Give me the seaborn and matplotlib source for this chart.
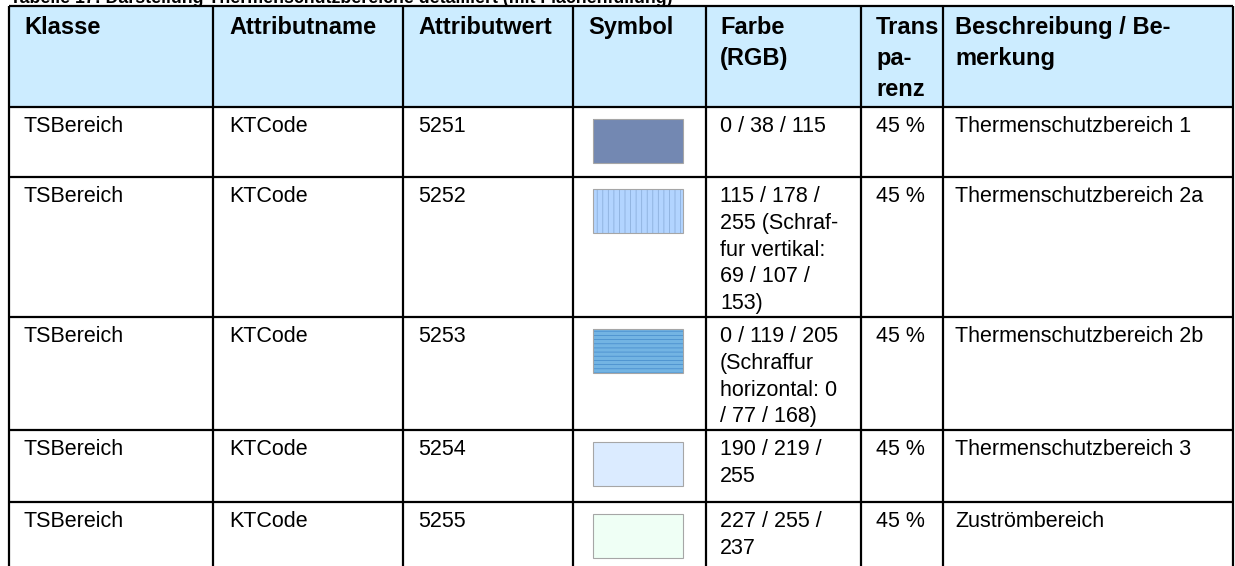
import matplotlib
matplotlib.use("Agg")
import matplotlib.pyplot as plt
from matplotlib.patches import Rectangle
import seaborn as sns

# table content
caption = "Tabelle 17: Darstellung Thermenschutzbereiche detailliert (mit Flächenfüllung)"
headers = ["Klasse", "Attributname", "Attributwert", "Symbol", "Farbe\n(RGB)",
           "Trans\npa-\nrenz", "Beschreibung / Be-\nmerkung"]
klasse = ["TSBereich"] * 5
attributname = ["KTCode"] * 5
attributwert = ["5251", "5252", "5253", "5254", "5255"]
farbe = ["0 / 38 / 115",
         "115 / 178 /\n255 (Schraf-\nfur vertikal:\n69 / 107 /\n153)",
         "0 / 119 / 205\n(Schraffur\nhorizontal: 0\n/ 77 / 168)",
         "190 / 219 /\n255",
         "227 / 255 /\n237"]
transparenz = ["45 %"] * 5
beschreibung = ["Thermenschutzbereich 1", "Thermenschutzbereich 2a",
                "Thermenschutzbereich 2b", "Thermenschutzbereich 3",
                "Zuströmbereich"]
fill_rgb = [(0, 38, 115), (115, 178, 255), (0, 119, 205), (190, 219, 255), (227, 255, 237)]
hatch_rgb = [None, (69, 107, 153), (0, 77, 168), None, None]
hatch_pat = [None, "|||", "----", None, None]
opacity = 0.55  # 45 % Transparenz

# layout (pixels)
col_x = [9, 213, 403, 573, 706, 861, 943, 1233]
text_pad = [15, 16, 15, 15, 14, 15, 12]
row_y = [6, 107, 177, 317, 430, 502, 566]

sns.set_theme(style="white")
plt.rcParams["font.family"] = ["Liberation Sans", "DejaVu Sans"]
plt.rcParams["hatch.linewidth"] = 0.6

fig = plt.figure(figsize=(12.35, 5.66), dpi=100)
ax = fig.add_axes([0, 0, 1, 1])
ax.set_xlim(0, 1235)
ax.set_ylim(566, 0)
ax.axis("off")


def rgb(c):
    return tuple(v / 255 for v in c)


# header background
ax.add_patch(Rectangle((col_x[0], row_y[0]), col_x[-1] - col_x[0], row_y[1] - row_y[0],
                       facecolor="#CCECFF", edgecolor="none", zorder=0))

for j, h in enumerate(headers):
    ax.text(col_x[j] + text_pad[j], row_y[0] + 10, h, fontsize=17, fontweight="bold",
            va="top", ha="left", linespacing=1.45, color="black")

cols = [klasse, attributname, attributwert, None, farbe, transparenz, beschreibung]
for i in range(len(klasse)):
    top = row_y[i + 1]
    for j, col in enumerate(cols):
        if col is None:
            continue
        ax.text(col_x[j] + text_pad[j], top + 9, col[i], fontsize=15.5, va="top", ha="left",
                linespacing=1.36, color="black")
    # symbol
    sx, sy, sw, sh = 593, top + 12, 90, 44
    ax.add_patch(Rectangle((sx, sy), sw, sh, facecolor=rgb(fill_rgb[i]), alpha=opacity,
                           edgecolor="none", zorder=2))
    if hatch_pat[i]:
        ax.add_patch(Rectangle((sx, sy), sw, sh, facecolor="none",
                               edgecolor=rgb(hatch_rgb[i]), hatch=hatch_pat[i],
                               linewidth=0, alpha=0.35, zorder=3))
    ax.add_patch(Rectangle((sx, sy), sw, sh, facecolor="none", edgecolor="#A6A6A6",
                           linewidth=0.8, zorder=4))

# grid lines
ax.hlines(row_y[:-1], col_x[0], col_x[-1], colors="black", linewidth=1.6, zorder=5)
ax.vlines(col_x, row_y[0], row_y[-1], colors="black", linewidth=1.6, zorder=5)

# caption, cut off at the top edge as in the source
ax.text(col_x[0] + 1, 3, caption, fontsize=12.8, fontweight="bold", va="baseline",
        ha="left", color="black", clip_on=False)

fig.savefig("out.png", dpi=100)
